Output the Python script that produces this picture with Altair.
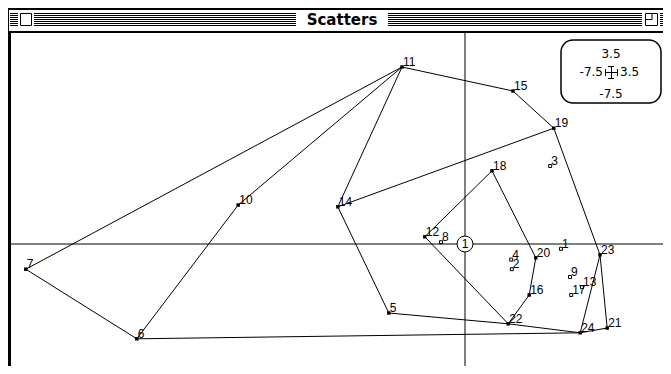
import altair as alt
import pandas as pd

# ---- data ----
point_ids = list(range(1, 25))
xs = [1.60, 0.78, 1.42, 0.77, -1.27, -5.47, -7.32, -0.40, 1.75, -3.78, -1.05, -0.67,
      1.95, -2.12, 0.80, 1.07, 1.77, 0.45, 1.48, 1.18, 2.37, 0.72, 2.25, 1.92]
ys = [-0.08, -0.42, 1.30, -0.26, -1.15, -1.58, -0.42, 0.03, -0.55, 0.65, 2.95, 0.12,
      -0.72, 0.62, 2.55, -0.85, -0.85, 1.22, 1.93, -0.23, -1.40, -1.33, -0.18, -1.48]
hollow_ids = [1, 2, 3, 4, 8, 9, 13, 17]
edge_from = [7, 11, 10, 6, 11, 11, 15, 19, 19, 23, 23, 21, 24, 14, 5, 22, 12, 18, 20, 16, 22]
edge_to = [11, 10, 6, 7, 14, 15, 19, 14, 23, 21, 24, 24, 6, 5, 22, 24, 18, 20, 16, 22, 12]
window_title = "Scatters"
legend_top, legend_left, legend_right, legend_bottom = "3.5", "-7.5", "3.5", "-7.5"
origin_label = "1"

W, H = 655, 358
LABEL_FONT = "Liberation Sans"

pts = pd.DataFrame({"id": point_ids, "x": xs, "y": ys})
pts["label"] = pts["id"].astype(str)
pts["hollow"] = pts["id"].isin(hollow_ids)
lookup = pts.set_index("id")
edges = pd.DataFrame({
    "x": [lookup.loc[a, "x"] for a in edge_from],
    "y": [lookup.loc[a, "y"] for a in edge_from],
    "x2": [lookup.loc[b, "x"] for b in edge_to],
    "y2": [lookup.loc[b, "y"] for b in edge_to],
})

xsc = alt.Scale(domain=[-7.6167, 3.3], nice=False, zero=False)
ysc = alt.Scale(domain=[-2.0333, 3.9333], nice=False, zero=False)
X = lambda f: alt.X(f, scale=xsc, axis=None)
Y = lambda f: alt.Y(f, scale=ysc, axis=None)

one = pd.DataFrame({"a": [0]})
base = alt.Chart(one)

# axis cross lines
hline = base.mark_rule(color="black", strokeWidth=1).encode(
    y=alt.Y(datum=0, scale=ysc, axis=None), x=alt.value(3), x2=alt.value(W))
vline = base.mark_rule(color="black", strokeWidth=1).encode(
    x=alt.X(datum=0, scale=xsc, axis=None), y=alt.value(25), y2=alt.value(H))

edge_layer = alt.Chart(edges).mark_rule(color="black", strokeWidth=1).encode(
    x=X("x:Q"), y=Y("y:Q"), x2="x2:Q", y2="y2:Q")

filled = alt.Chart(pts[~pts["hollow"]]).mark_point(
    shape="square", size=12, filled=True, color="black", opacity=1).encode(x=X("x:Q"), y=Y("y:Q"))
hollow = alt.Chart(pts[pts["hollow"]]).mark_point(
    shape="square", size=9, filled=False, stroke="black", strokeWidth=1, opacity=1).encode(x=X("x:Q"), y=Y("y:Q"))
labels = alt.Chart(pts).mark_text(
    align="left", baseline="alphabetic", dx=1, dy=-1, font=LABEL_FONT, fontSize=12, color="black").encode(
    x=X("x:Q"), y=Y("y:Q"), text="label:N")

origin_circle = base.mark_point(shape="circle", size=254, filled=True, fill="white",
                                stroke="black", strokeWidth=1, opacity=1).encode(
    x=alt.X(datum=0, scale=xsc, axis=None), y=alt.Y(datum=0, scale=ysc, axis=None))
origin_text = base.mark_text(align="center", baseline="middle", font=LABEL_FONT, fontSize=12,
                             color="black").encode(
    x=alt.X(datum=0, scale=xsc, axis=None), y=alt.Y(datum=0, scale=ysc, axis=None),
    text=alt.value(origin_label))

# legend box (top right)
lx0, lx1, ly0, ly1 = 553, 653, 32, 95
cx = (lx0 + lx1) / 2
legend_box = base.mark_rect(fill="white", stroke="black", strokeWidth=1.5, cornerRadius=12).encode(
    x=alt.value(lx0), x2=alt.value(lx1), y=alt.value(ly0), y2=alt.value(ly1))
leg_txt = pd.DataFrame({
    "t": [legend_top, legend_left, legend_right, legend_bottom],
    "px": [cx, cx - 8, cx + 9, cx],
    "py": [46, 64, 64, 86],
    "al": ["center", "right", "left", "center"],
})
leg_texts = []
for _, r in leg_txt.iterrows():
    leg_texts.append(base.mark_text(align=r["al"], baseline="middle", font="DejaVu Sans",
                                    fontSize=12, color="black").encode(
        x=alt.value(r["px"]), y=alt.value(r["py"]), text=alt.value(r["t"])))
cross = pd.DataFrame({
    "x1": [cx - 6, cx + 0.5, cx - 5.5, cx + 6.5, cx - 3, cx - 3],
    "x2": [cx + 6, cx + 0.5, cx - 5.5, cx + 6.5, cx + 3, cx + 3],
    "y1": [64.5, 58, 61, 61, 58.5, 70.5],
    "y2": [64.5, 71, 68, 68, 58.5, 70.5],
})
cross_layer = alt.Chart(cross).mark_rule(color="black", strokeWidth=1).encode(
    x=alt.X("x1:Q", scale=None), x2="x2:Q", y=alt.Y("y1:Q", scale=None), y2="y2:Q")

# window chrome: title bar
tb_bg = base.mark_rect(fill="white", stroke=None).encode(
    x=alt.value(0), x2=alt.value(W), y=alt.value(0), y2=alt.value(24))
stripe_rows = []
for yy in [5.5, 7.5, 9.5, 11.5, 13.5, 15.5, 17.5]:
    for a, b in [(2, 10), (26, 288), (380, 634), (652, W)]:
        stripe_rows.append({"x1": a, "x2": b, "y1": yy, "y2": yy})
frame_rows = [
    {"x1": 0, "x2": W, "y1": 1, "y2": 1, "w": 2},
    {"x1": 0, "x2": W, "y1": 24, "y2": 24, "w": 2},
    {"x1": 0.5, "x2": 0.5, "y1": 0, "y2": 24, "w": 1},
    {"x1": 1.5, "x2": 1.5, "y1": 24, "y2": H, "w": 3},
]
stripes = alt.Chart(pd.DataFrame(stripe_rows)).mark_rule(color="black", strokeWidth=1).encode(
    x=alt.X("x1:Q", scale=None), x2="x2:Q", y=alt.Y("y1:Q", scale=None), y2="y2:Q")
frame = alt.Chart(pd.DataFrame(frame_rows)).mark_rule(color="black").encode(
    x=alt.X("x1:Q", scale=None), x2="x2:Q", y=alt.Y("y1:Q", scale=None), y2="y2:Q",
    strokeWidth=alt.StrokeWidth("w:Q", scale=None, legend=None))
close_box = base.mark_rect(fill="white", stroke="black", strokeWidth=1).encode(
    x=alt.value(12.5), x2=alt.value(23.5), y=alt.value(5.5), y2=alt.value(17.5))
zoom_box = base.mark_rect(fill="white", stroke="black", strokeWidth=1).encode(
    x=alt.value(637.5), x2=alt.value(649.5), y=alt.value(5.5), y2=alt.value(17.5))
zoom_inner = alt.Chart(pd.DataFrame([
    {"x1": 637.5, "x2": 644, "y1": 11.5, "y2": 11.5},
    {"x1": 644, "x2": 644, "y1": 5.5, "y2": 11.5},
])).mark_rule(color="black", strokeWidth=1).encode(
    x=alt.X("x1:Q", scale=None), x2="x2:Q", y=alt.Y("y1:Q", scale=None), y2="y2:Q")
title_text = base.mark_text(align="center", baseline="middle", font="DejaVu Sans", fontSize=15,
                            fontWeight="bold", color="black").encode(
    x=alt.value(334), y=alt.value(12), text=alt.value(window_title))

chart = alt.layer(
    hline, vline, edge_layer, filled, hollow, labels, origin_circle, origin_text,
    legend_box, *leg_texts, cross_layer,
    tb_bg, stripes, close_box, zoom_box, zoom_inner, title_text, frame,
).properties(width=W, height=H, padding=0, autosize=alt.AutoSizeParams(type="none"),
             background="white"
).configure_view(stroke=None)

chart.save("out.html", embed_options={"renderer": "svg", "actions": False})
